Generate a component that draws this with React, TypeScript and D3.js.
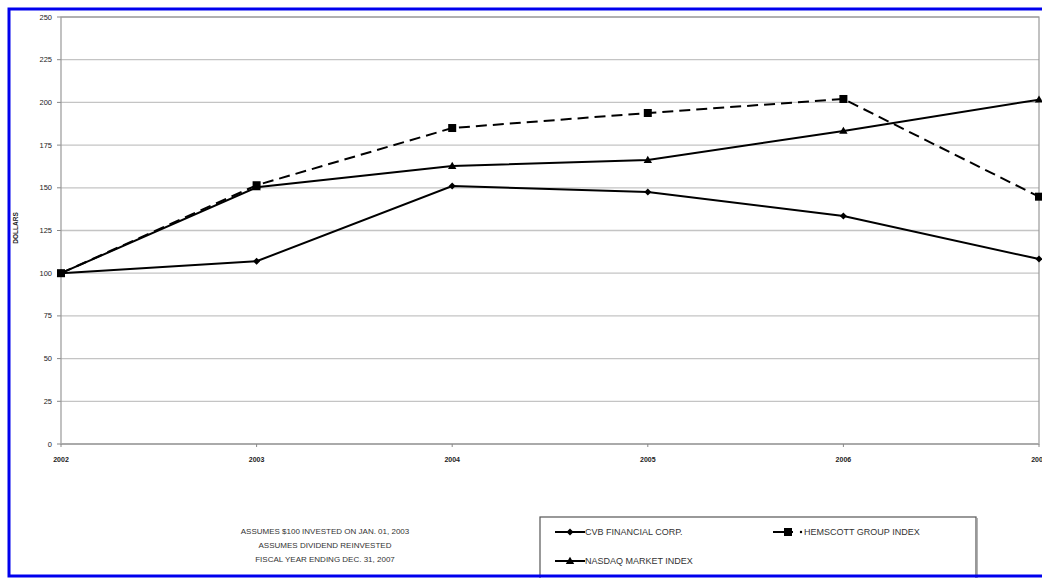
import React from "react";
import * as d3 from "d3";

const years = [2002, 2003, 2004, 2005, 2006, 2007];
const cvb = [100, 107, 151, 147.5, 133.5, 108.3];
const hemscott = [100, 151.5, 185, 193.8, 202, 144.8];
const nasdaq = [100, 150.3, 162.8, 166.3, 183.3, 201.6];
const yTicks = [0, 25, 50, 75, 100, 125, 150, 175, 200, 225, 250];
const footnote = [
  "ASSUMES $100 INVESTED ON JAN.  01, 2003",
  "ASSUMES  DIVIDEND REINVESTED",
  "FISCAL YEAR ENDING  DEC. 31, 2007",
];

const W = 1042, H = 578;
const L = 61, R = 1039, T = 17, B = 444;
const FONT = "'Liberation Sans', Arial, sans-serif";

function Marker({ kind, x, y }: { kind: string; x: number; y: number }) {
  if (kind === "diamond") {
    const s = 3.5;
    return <path d={`M${x},${y - s}L${x + s},${y}L${x},${y + s}L${x - s},${y}Z`} fill="#000" />;
  }
  if (kind === "square") {
    return <rect x={x - 4} y={y - 4} width={8} height={8} fill="#000" />;
  }
  const s = 4.2;
  return <path d={`M${x},${y - s}L${x + s},${y + s * 0.7}L${x - s},${y + s * 0.7}Z`} fill="#000" />;
}

export default function App() {
  const x = d3.scalePoint<number>().domain(years).range([L, R]);
  const y = d3.scaleLinear().domain([0, 250]).range([B, T]);
  const line = d3
    .line<number>()
    .x((_, i) => x(years[i]) as number)
    .y((d) => y(d));

  const series = [
    { name: "CVB FINANCIAL CORP.", data: cvb, marker: "diamond", dash: "" },
    { name: "HEMSCOTT GROUP INDEX", data: hemscott, marker: "square", dash: "11,6" },
    { name: "NASDAQ MARKET INDEX", data: nasdaq, marker: "triangle", dash: "" },
  ];

  return (
    <svg
      width={W}
      height={H}
      style={{ position: "absolute", left: 0, top: 0, background: "#fff" }}
      fontFamily={FONT}
    >
      <rect x={0} y={0} width={W} height={H} fill="#fff" />
      {/* gridlines */}
      {yTicks.map((t) => (
        <g key={t}>
          {t > 0 && (
            <line x1={L} x2={R} y1={y(t)} y2={y(t)} stroke="#c4c4c4" strokeWidth={1.3} />
          )}
          <line x1={L - 4} x2={L} y1={y(t)} y2={y(t)} stroke="#888" strokeWidth={1} />
          <text x={52} y={y(t) + 2.5} fontSize={7.5} textAnchor="end" fill="#222">
            {t}
          </text>
        </g>
      ))}
      {/* plot border */}
      <rect x={L} y={T} width={R - L} height={B - T} fill="none" stroke="#999" strokeWidth={1.2} />
      <line x1={L} x2={R} y1={B} y2={B} stroke="#aaa" strokeWidth={2} />
      {years.map((yr) => (
        <g key={yr}>
          <line x1={x(yr)} x2={x(yr)} y1={B} y2={B + 3} stroke="#888" />
          <text
            x={x(yr) as number}
            y={462}
            fontSize={7}
            fontWeight="bold"
            textAnchor="middle"
            fill="#222"
          >
            {yr}
          </text>
        </g>
      ))}
      <text
        transform={`translate(18,228) rotate(-90)`}
        fontSize={6.5}
        fontWeight="bold"
        textAnchor="middle"
        fill="#222"
      >
        DOLLARS
      </text>
      {/* series */}
      {series.map((s) => (
        <g key={s.name}>
          <path d={line(s.data) || ""} fill="none" stroke="#000" strokeWidth={2} strokeDasharray={s.dash} />
          {s.data.map((v, i) => (
            <Marker key={i} kind={s.marker} x={x(years[i]) as number} y={y(v)} />
          ))}
        </g>
      ))}
      {/* footnote */}
      {footnote.map((t, i) => (
        <text key={i} x={325} y={534 + i * 14} fontSize={8} textAnchor="middle" fill="#333">
          {t}
        </text>
      ))}
      {/* legend */}
      <rect x={540} y={517} width={436} height={70} fill="#fff" stroke="#555" strokeWidth={1.2} />
      <line x1={977} x2={977} y1={518} y2={578} stroke="#999" strokeWidth={1.5} />
      {[
        { s: series[0], lx: 555, ly: 532 },
        { s: series[1], lx: 773, ly: 532 },
        { s: series[2], lx: 555, ly: 561 },
      ].map(({ s, lx, ly }) => (
        <g key={s.name}>
          {s.marker === "square" ? (
            <>
              <line x1={lx} x2={lx + 20} y1={ly} y2={ly} stroke="#000" strokeWidth={2} />
              <Marker kind="square" x={lx + 15} y={ly} />
              <circle cx={lx + 28} cy={ly} r={1.2} fill="#000" />
              <text x={lx + 31} y={ly + 3} fontSize={9} fill="#333">
                {s.name}
              </text>
            </>
          ) : (
            <>
              <line x1={lx} x2={lx + 30} y1={ly} y2={ly} stroke="#000" strokeWidth={2} />
              <Marker kind={s.marker} x={lx + 15} y={ly} />
              <text x={lx + 30} y={ly + 3} fontSize={9} fill="#333">
                {s.name}
              </text>
            </>
          )}
        </g>
      ))}
      {/* blue frame */}
      <rect x={9} y={9} width={W + 20} height={567} fill="none" stroke="#0000ee" strokeWidth={3} />
    </svg>
  );
}
